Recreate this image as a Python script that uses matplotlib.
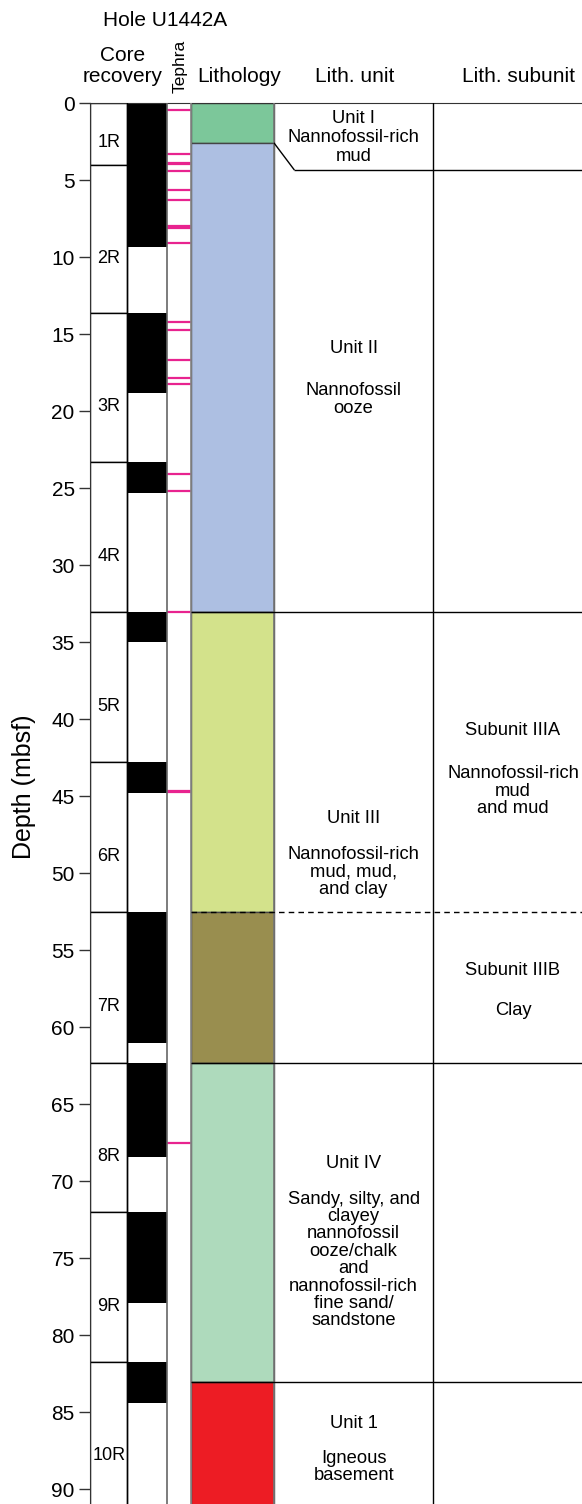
import matplotlib.pyplot as plt

plt.rcParams['font.family'] = ['Liberation Sans', 'DejaVu Sans']

# cores (depth in mbsf)
cores = ["1R", "2R", "3R", "4R", "5R", "6R", "7R", "8R", "9R", "10R"]
core_top = [0.0, 4.0, 13.6, 23.3, 33.0, 42.8, 52.5, 62.3, 72.0, 81.7]
core_bottom = [4.0, 13.6, 23.3, 33.0, 42.8, 52.5, 62.3, 72.0, 81.7, 91.4]
recovered_bottom = [4.0, 9.35, 18.8, 25.3, 35.0, 44.8, 61.0, 68.4, 77.9, 84.4]

# tephra layers
tephra = [0.43, 3.31, 3.88, 3.96, 4.40, 5.65, 6.25, 7.98, 8.07, 9.07,
          14.2, 14.74, 16.65, 17.84, 18.23, 24.07, 25.2, 33.05,
          44.66, 44.74, 67.5]

# lithology
lith_top = [0.0, 2.6, 33.0, 52.5, 62.3, 83.0]
lith_bottom = [2.6, 33.0, 52.5, 62.3, 83.0, 91.4]
lith_colors = ["#7cc79a", "#adbfe2", "#d3e28b", "#998e4f", "#aedabc", "#ed1c24"]

unit_titles = ["Unit II", "Unit III", "Unit IV", "Unit 1"]
unit_desc = ["Nannofossil\nooze",
             "Nannofossil-rich\nmud, mud,\nand clay",
             "Sandy, silty, and\nclayey\nnannofossil\nooze/chalk\nand\nnannofossil-rich\nfine sand/\nsandstone",
             "Igneous\nbasement"]
subunit_titles = ["Subunit IIIA", "Subunit IIIB"]
subunit_desc = ["Nannofossil-rich\nmud\nand mud", "Clay"]

W, H = 582, 1504
top_px = 103.3
fig = plt.figure(figsize=(W / 100, H / 100), dpi=100)
ax = fig.add_axes([90 / W, 0, (W - 90) / W, (H - top_px) / H])
ax.set_xlim(90, W)
ax.set_ylim(90.95, 0)

def fx(px):
    return px / W

def fy(py):
    return 1 - py / H

# column edges (x in pixels)
core_l, core_r = 90, 127.5
tep_l, tep_r = 166.7, 190.7
lit_l, lit_r = 190.7, 274.3
sub_l = 433

heights = [b - t for t, b in zip(core_top, core_bottom)]
ax.bar((core_l + core_r) / 2, heights, bottom=core_top, width=core_r - core_l,
       color="white", edgecolor="black", linewidth=1, zorder=2)
rec_h = [b - t for t, b in zip(core_top, recovered_bottom)]
ax.bar((core_r + tep_l) / 2, rec_h, bottom=core_top, width=tep_l - core_r,
       color="black", linewidth=0, zorder=2)
for name, t, b in zip(cores, core_top, core_bottom):
    ax.text(109, t + 0.63 * (b - t), name, ha="center", va="center",
            fontsize=13, zorder=5)

ax.axvline(core_r, color="black", lw=1, zorder=3)
ax.axvline(tep_l, color="#666666", lw=1.2, zorder=3)
ax.axvline(tep_r, color="#888888", lw=1.2, zorder=3)
ax.hlines(tephra, tep_l, tep_r, color="#e8238f", lw=1.6, zorder=2)

lh = [b - t for t, b in zip(lith_top, lith_bottom)]
ax.bar((lit_l + lit_r) / 2, lh, bottom=lith_top, width=lit_r - lit_l,
       color=lith_colors, edgecolor="#444444", linewidth=1, zorder=2)
ax.axvline(lit_r, color="#777777", lw=1.2, zorder=3)

# unit boundaries
ax.hlines([33.0, 62.3, 83.0], lit_l, W, color="black", lw=1, zorder=4)
ax.hlines([52.5], lit_l, W, color="black", lw=1, linestyles=(0, (4, 3)), zorder=4)
ax.plot([lit_r, 294], [2.6, 4.3], color="black", lw=1, zorder=4)
ax.hlines([4.3], 294, W, color="black", lw=1, zorder=4)
ax.axvline(sub_l, color="black", lw=1, zorder=4)

ux = (lit_r + sub_l) / 2
sx = 513
ts = 13.2
ls = 1.03
ax.text(ux, 0.45, "Unit I\nNannofossil-rich\nmud", ha="center", va="top",
        fontsize=ts, linespacing=1.16, zorder=5)
for t, d, yt, yd in zip(unit_titles, unit_desc, [15.9, 46.42, 68.82, 85.7],
                        [18.12, 48.25, 70.6, 87.45]):
    ax.text(ux, yt, t, ha="center", va="center", fontsize=ts, zorder=5)
    ax.text(ux, yd, d, ha="center", va="top", fontsize=ts, linespacing=ls,
            zorder=5)
for t, d, yt, yd in zip(subunit_titles, subunit_desc, [40.75, 56.3], [42.98, 58.37]):
    ax.text(sx, yt, t, ha="center", va="center", fontsize=ts, zorder=5)
    ax.text(sx, yd, d, ha="center", va="top", fontsize=ts, linespacing=ls,
            zorder=5)

# axes styling
for s in ["right", "bottom"]:
    ax.spines[s].set_visible(False)
ax.spines["left"].set_color("#333333")
ax.spines["top"].set_color("#333333")
ax.set_xticks([])
ax.set_yticks(range(0, 91, 5))
ax.tick_params(axis="y", length=8, width=1, color="#333333", labelsize=15, pad=3)

# headers
fig.text(fx(165), fy(20), "Hole U1442A", ha="center", va="center", fontsize=15)
fig.text(fx(123), fy(66), "Core\nrecovery", ha="center", va="center",
         fontsize=15, linespacing=1.18)
fig.text(fx(180), fy(93), "Tephra", ha="center", va="bottom", rotation=90,
         fontsize=12.5)
fig.text(fx(239), fy(76), "Lithology", ha="center", va="center", fontsize=15)
fig.text(fx(355), fy(76), "Lith. unit", ha="center", va="center", fontsize=15)
fig.text(fx(518), fy(76), "Lith. subunit", ha="center", va="center", fontsize=15)
fig.text(fx(24), fy(787), "Depth (mbsf)", ha="center", va="center",
         rotation=90, fontsize=18)

fig.savefig("out.png", dpi=100)
